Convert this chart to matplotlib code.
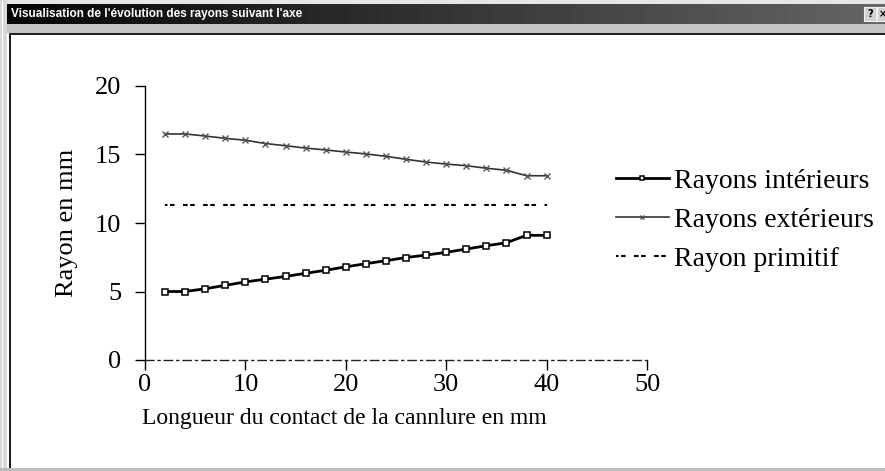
import numpy as np
import matplotlib
matplotlib.use("Agg")
import matplotlib.pyplot as plt
from matplotlib.patches import Rectangle

# longueur de contact (mm)
longueur = [2, 4, 6, 8, 10, 12, 14, 16, 18, 20, 22, 24, 26, 28, 30, 32, 34, 36, 38, 40]

rayons_int = [5.0, 5.0, 5.2, 5.45, 5.7, 5.9, 6.1, 6.33, 6.55, 6.8,
              7.03, 7.25, 7.48, 7.66, 7.86, 8.1, 8.34, 8.56, 9.1, 9.1]
rayons_ext = [16.5, 16.5, 16.35, 16.18, 16.04, 15.8, 15.64, 15.47, 15.33, 15.18,
              15.04, 14.87, 14.65, 14.45, 14.3, 14.18, 14.0, 13.85, 13.45, 13.45]
rayon_prim = [11.3] * len(longueur)

xticks = [0, 10, 20, 30, 40, 50]
yticks = [0, 5, 10, 15, 20]

W, H = 885, 471
fig = plt.figure(figsize=(W / 100, H / 100), dpi=100)
fig.patch.set_facecolor("white")


def box(x0, y0, x1, y1, color, z=0):
    # rectangle en pixels, origine en haut a gauche
    fig.add_artist(Rectangle((x0 / W, 1 - y1 / H), (x1 - x0) / W, (y1 - y0) / H,
                             transform=fig.transFigure, facecolor=color,
                             edgecolor="none", zorder=z))


# cadre de la fenetre
box(0, 0, W, 4, "#e6e6e6")
box(0, 0, 7, H, "#d8d8d8")
box(2, 0, 3, H, "#ffffff")
box(7, 24, W, 33, "#c4c4c4")
box(9, 33, W, 35, "#202020")
box(9, 33, 11, 468, "#202020")
box(0, 468, W, H, "#bdbdbd")

# barre de titre en degrade
tb = fig.add_axes([7 / W, 1 - 24 / H, (W - 7) / W, 20 / H])
grad = np.linspace(0, 1, 256).reshape(1, -1)
tb.imshow(grad, aspect="auto", cmap="gray", vmin=-0.05, vmax=2.6,
          extent=[0, 1, 0, 1])
tb.set_axis_off()
tb.text(0.004, 0.5, "Visualisation de l'évolution des rayons suivant l'axe",
        color="white", fontsize=8.5, fontweight="bold", va="center", ha="left",
        family=["Liberation Sans Narrow", "Liberation Sans"])
for bx, lab in [(864, "?"), (877, "×")]:
    b = fig.add_axes([bx / W, 1 - 21 / H, 12 / W, 14 / H])
    b.set_facecolor("#d0d0d0")
    b.set_xticks([])
    b.set_yticks([])
    for s in b.spines.values():
        s.set_color("#f0f0f0")
    b.text(0.5, 0.5, lab, ha="center", va="center", fontsize=7,
           fontweight="bold", color="black")

plt.rcParams["font.family"] = ["Liberation Serif", "DejaVu Serif"]

ax = fig.add_axes([145 / W, 1 - 360 / H, 502 / W, 274 / H])
ax.set_xlim(0, 50)
ax.set_ylim(0, 20)

ax.plot(longueur, rayons_int, color="black", lw=2, marker="s", ms=5,
        mfc="white", mec="black", mew=1.1, label="Rayons intérieurs",
        clip_on=False, zorder=3)
ax.plot(longueur, rayons_ext, color="#333333", lw=1.2, marker="x", ms=5,
        mec="#555555", mew=1, label="Rayons extérieurs", clip_on=False, zorder=3)
ax.plot(longueur, rayon_prim, color="black", lw=1.5,
        linestyle=(1.0, (2.2, 1.2, 2.2, 4.04)), label="Rayon primitif", zorder=3)

ax.set_xticks(xticks)
ax.set_yticks(yticks)
ax.tick_params(axis="both", direction="out", length=7, width=1, color="black",
               labelsize=19)
ax.tick_params(axis="y", pad=10)
ax.tick_params(axis="x", pad=3)

for s in ["top", "right"]:
    ax.spines[s].set_visible(False)
ax.spines["left"].set_linewidth(1)
ax.spines["bottom"].set_linewidth(1)
ax.spines["bottom"].set_linestyle((0, (6, 3, 1.5, 3)))
ax.spines["bottom"].set_color("#222222")

ax.set_xlabel("Longueur du contact de la cannlure en mm", fontsize=17)
ax.xaxis.set_label_coords(0.398, -0.175)
ax.set_ylabel("Rayon en mm", fontsize=19, labelpad=12)

leg = ax.legend(loc="center left", bbox_to_anchor=(602 / W, 1 - 220 / H),
                bbox_transform=fig.transFigure, frameon=False, fontsize=20,
                handlelength=1.9, handletextpad=0.2, labelspacing=0.48,
                borderpad=0, markerscale=0.7)

fig.savefig("out.png", dpi=100)
